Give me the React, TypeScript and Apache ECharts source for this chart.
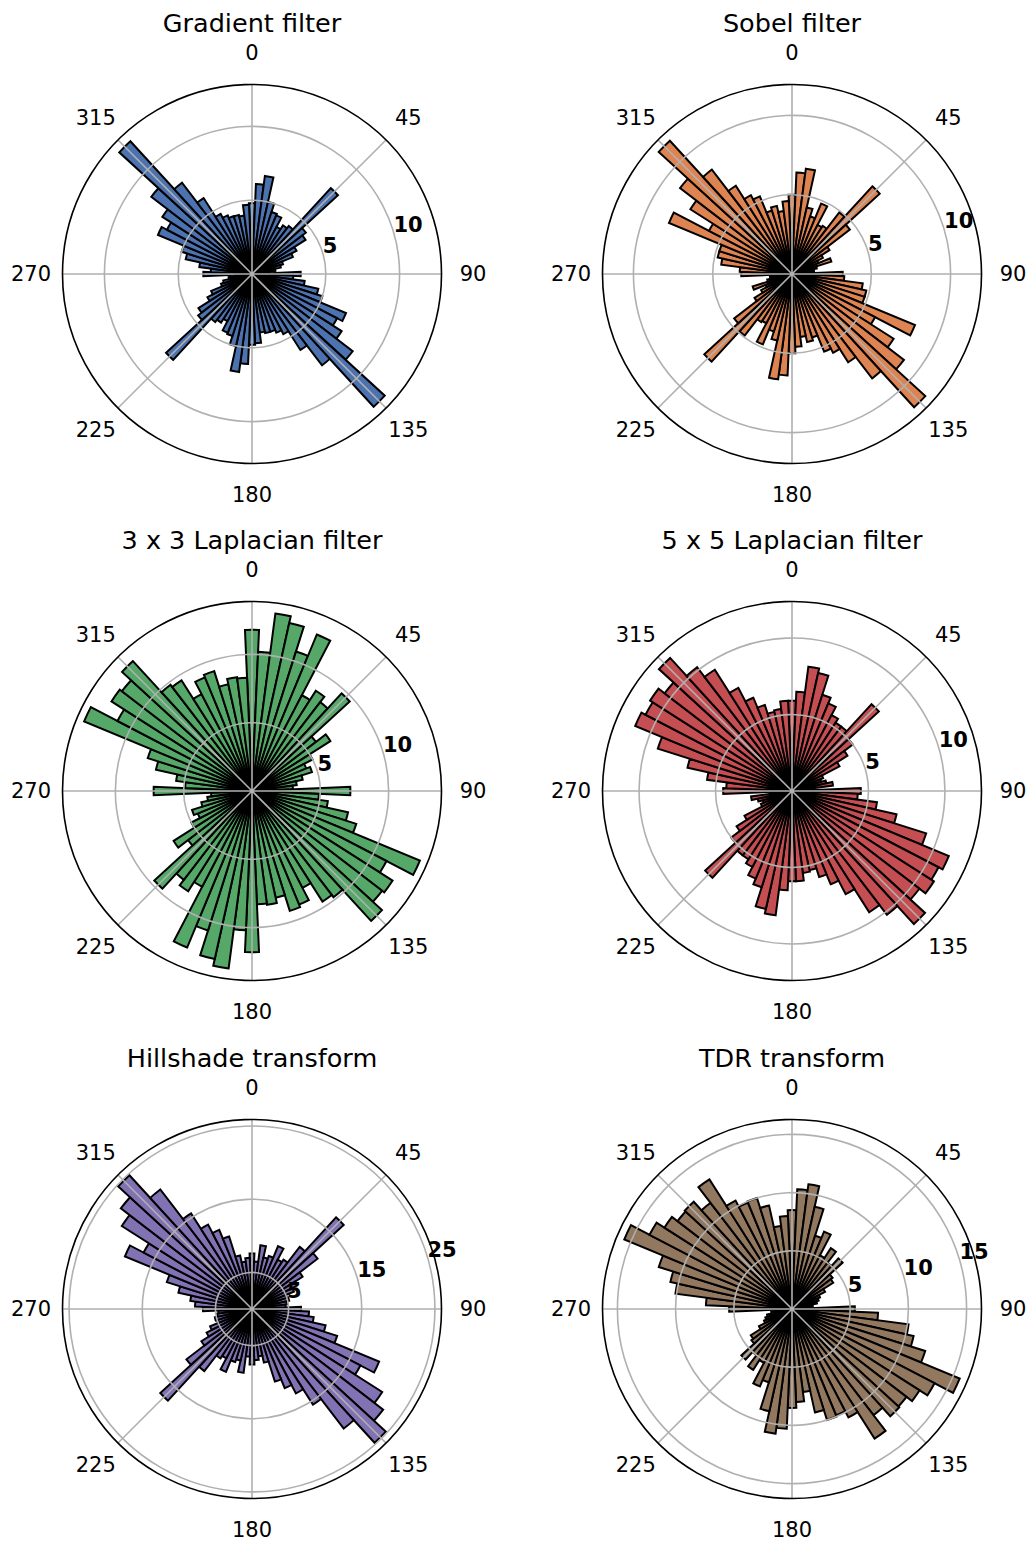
import React, { useEffect, useRef } from "react";
import * as echarts from "echarts";

// ---------- data (values for bins 0..175 deg, mirrored for 180..355) ----------
const binStep = 5;
const binLabels: string[] = Array.from({ length: 72 }, (_, i) => String(i * binStep));
const angleTicks = [0, 45, 90, 135, 180, 225, 270, 315];

const gradientHalf = [
  4.8, 6.1, 6.7, 5.0, 4.4, 4.3, 3.6, 3.9, 4.1, 7.9, 4.6, 4.3, 3.4, 3.0, 2.2, 2.0, 1.6, 1.2,
  3.3, 2.8, 3.6, 4.6, 5.0, 6.9, 6.5, 7.2, 8.6, 12.2, 7.8, 6.1, 4.6, 4.3, 4.1, 4.1, 4.0, 4.7,
];
const sobelHalf = [
  5.0, 6.4, 6.7, 4.3, 3.8, 4.8, 3.5, 3.6, 4.9, 7.5, 4.6, 2.8, 2.2, 1.8, 2.6, 1.6, 1.4, 1.3,
  3.2, 3.3, 4.5, 4.8, 4.8, 8.4, 5.9, 7.6, 8.9, 11.4, 8.3, 6.6, 5.6, 5.3, 4.2, 4.4, 4.0, 4.6,
];
const lap3Half = [
  11.8, 10.2, 13.1, 12.6, 10.7, 12.4, 7.9, 8.7, 8.2, 9.7, 5.9, 6.8, 5.0, 4.3, 4.6, 3.8, 3.3, 3.0,
  7.2, 4.9, 5.6, 7.2, 8.0, 13.3, 11.1, 12.2, 12.0, 12.9, 9.8, 9.6, 8.0, 9.0, 9.2, 8.0, 8.4, 8.3,
];
const lap5Half = [
  5.9, 6.5, 8.2, 7.9, 6.6, 6.2, 5.6, 5.3, 5.3, 7.7, 5.0, 4.3, 3.5, 2.2, 2.0, 2.3, 2.7, 1.4,
  4.5, 4.3, 5.6, 7.0, 9.2, 11.1, 10.8, 11.0, 10.5, 11.8, 10.2, 9.4, 7.6, 6.6, 5.9, 5.3, 5.4, 5.9,
];
const hillHalf = [
  7.6, 6.5, 8.8, 7.2, 7.6, 9.3, 7.6, 8.0, 10.7, 17.0, 11.3, 8.2, 7.0, 6.2, 5.0, 5.2, 4.8, 4.6,
  6.7, 7.8, 8.5, 10.3, 12.2, 18.8, 16.7, 21.1, 22.6, 24.8, 20.6, 15.5, 13.0, 11.7, 10.4, 7.5, 6.5, 7.0,
];
const tdrHalf = [
  8.5, 10.3, 10.8, 9.0, 6.6, 7.2, 5.2, 6.2, 5.0, 5.9, 4.4, 4.2, 3.2, 2.6, 2.4, 2.2, 1.8, 1.5,
  5.4, 7.4, 10.1, 10.7, 12.0, 15.6, 13.8, 13.0, 12.4, 12.5, 11.5, 13.2, 10.5, 9.9, 10.0, 9.1, 7.2, 8.0,
];

const titles = [
  "Gradient filter",
  "Sobel filter",
  "3 x 3 Laplacian filter",
  "5 x 5 Laplacian filter",
  "Hillshade transform",
  "TDR transform",
];
const halves = [gradientHalf, sobelHalf, lap3Half, lap5Half, hillHalf, tdrHalf];
const colors = ["#4c72b0", "#dd8452", "#55a868", "#c44e52", "#8172b3", "#937860"];
const rTicks = [[5, 10], [5, 10], [5, 10], [5, 10], [5, 15, 25], [5, 10, 15]];
const rMax = [12.84, 11.95, 13.87, 12.39, 25.9, 16.28];

// ---------- layout ----------
const W = 1031;
const H = 1542;
const centers: [number, number][] = [
  [252, 274], [792, 274],
  [252, 791], [792, 791],
  [252, 1309], [792, 1309],
];
const R = 189.5;
const LABEL_R = 221;
const TITLE_DY = 251;
const R_LABEL_ANGLE = 73.5;
const FONT = "DejaVu Sans";

function buildOption() {
  const polar: any[] = [];
  const angleAxis: any[] = [];
  const radiusAxis: any[] = [];
  const series: any[] = [];
  const title: any[] = [];
  const hidden = {
    axisLine: { show: false },
    axisTick: { show: false },
    axisLabel: { show: false },
    splitLine: { show: false },
  };

  halves.forEach((half, k) => {
    const c = centers[k];
    const base = k * 3;
    const full = half.concat(half);

    title.push({
      text: titles[k],
      left: c[0],
      top: c[1] - TITLE_DY,
      padding: 0,
      textAlign: "center",
      textVerticalAlign: "middle",
      textStyle: { fontFamily: FONT, fontSize: 25.5, fontWeight: "normal", color: "#000" },
    });

    // A: bars
    polar.push({ center: c, radius: R });
    angleAxis.push({
      polarIndex: base,
      type: "category",
      data: binLabels,
      startAngle: 90 + binStep / 2,
      clockwise: true,
      boundaryGap: true,
      ...hidden,
    });
    radiusAxis.push({ polarIndex: base, type: "value", min: 0, max: rMax[k], ...hidden });

    // B: grid
    polar.push({ center: c, radius: R });
    angleAxis.push({
      polarIndex: base + 1,
      type: "value",
      min: 0,
      max: 360,
      interval: 45,
      startAngle: 90,
      clockwise: true,
      z: 5,
      axisLine: { show: true, lineStyle: { color: "#000", width: 1.6 } },
      axisTick: { show: false },
      axisLabel: { show: false },
      splitLine: { show: true, lineStyle: { color: "#b0b0b0", width: 1.6 } },
    });
    radiusAxis.push({
      polarIndex: base + 1,
      type: "value",
      min: 0,
      max: rMax[k],
      z: 5,
      axisLine: { show: false },
      axisTick: { show: false, customValues: rTicks[k] },
      axisLabel: { show: false, customValues: rTicks[k] },
      splitLine: { show: true, lineStyle: { color: "#b0b0b0", width: 1.6 } },
    });

    // L: angle labels ring
    polar.push({ center: c, radius: LABEL_R });
    angleAxis.push({
      polarIndex: base + 2,
      type: "value",
      min: 0,
      max: 360,
      startAngle: 90,
      clockwise: true,
      ...hidden,
    });
    radiusAxis.push({ polarIndex: base + 2, type: "value", min: 0, max: 1, ...hidden });

    series.push({
      type: "bar",
      coordinateSystem: "polar",
      polarIndex: base,
      data: full,
      barCategoryGap: "0%",
      itemStyle: { color: colors[k], borderColor: "#000", borderWidth: 2, opacity: 1 },
      emphasis: { disabled: true },
      z: 2,
    });
    series.push({
      type: "scatter",
      coordinateSystem: "polar",
      polarIndex: base + 1,
      data: rTicks[k].map((v) => [v, R_LABEL_ANGLE]),
      symbolSize: 0,
      clip: false,
      z: 10,
      itemStyle: { opacity: 1 },
      emphasis: { disabled: true },
      label: {
        show: true,
        position: "right",
        distance: 0,
        verticalAlign: "bottom",
        offset: [0, 3],
        formatter: (p: any) => String(p.value[0]),
        fontFamily: FONT,
        fontWeight: "bold",
        fontSize: 21,
        color: "#000",
        opacity: 1,
        textBorderWidth: 0,
      },
    });
    series.push({
      type: "scatter",
      coordinateSystem: "polar",
      polarIndex: base + 2,
      data: angleTicks.map((a) => [1, a]),
      symbolSize: 0,
      clip: false,
      z: 10,
      itemStyle: { opacity: 1 },
      emphasis: { disabled: true },
      label: {
        show: true,
        position: "inside",
        formatter: (p: any) => String(p.value[1]),
        fontFamily: FONT,
        fontSize: 21,
        color: "#000",
        opacity: 1,
        textBorderWidth: 0,
      },
    });
  });

  return {
    animation: false,
    backgroundColor: "#fff",
    textStyle: { fontFamily: FONT },
    title,
    polar,
    angleAxis,
    radiusAxis,
    series,
    tooltip: { show: false },
  };
}

export default function App() {
  const ref = useRef<HTMLDivElement>(null);
  useEffect(() => {
    if (!ref.current) return;
    const chart = echarts.init(ref.current, undefined, { renderer: "svg" });
    chart.setOption(buildOption());
    return () => chart.dispose();
  }, []);
  return (
    <div
      ref={ref}
      style={{ position: "absolute", left: 0, top: 0, width: W, height: H, background: "#fff" }}
    />
  );
}
